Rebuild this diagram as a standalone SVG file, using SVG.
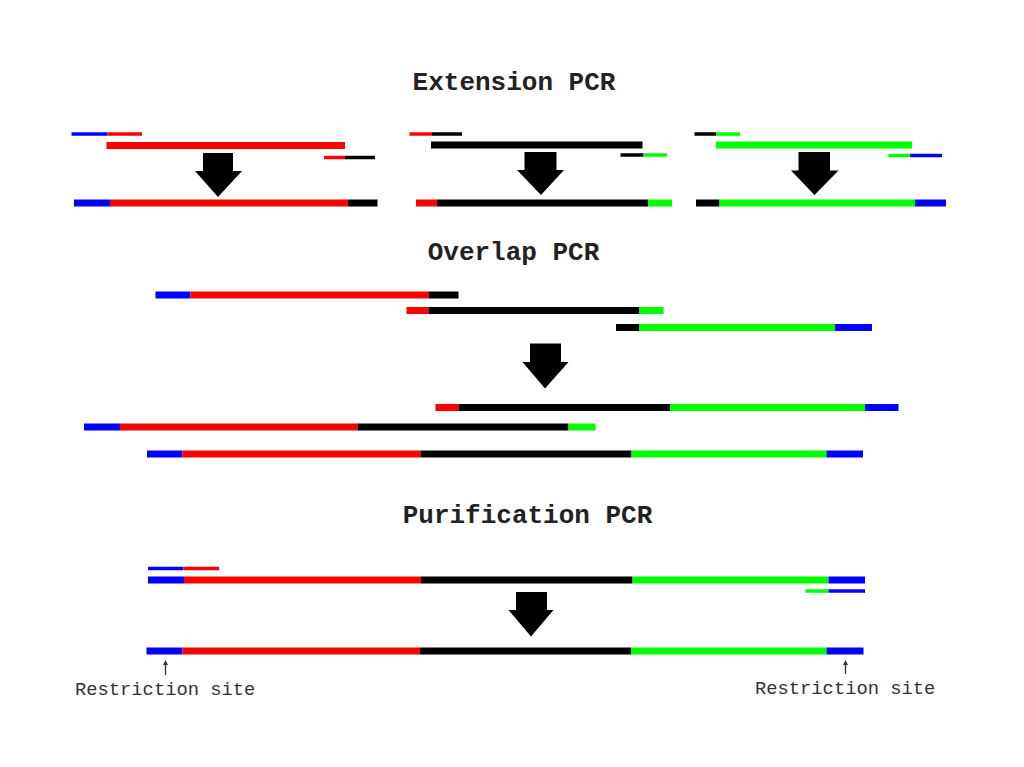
<svg xmlns="http://www.w3.org/2000/svg" width="1024" height="767" viewBox="0 0 1024 767">
<style>
.t{font-family:"Liberation Mono","Courier New",monospace;font-weight:bold;font-size:26px;fill:#222;text-anchor:middle}
.s{font-family:"Liberation Mono","Courier New",monospace;font-size:18.8px;fill:#333}
line{stroke-linecap:butt}
.k{stroke-width:7}
.n{stroke-width:3.5}
.b{stroke:#0000ff}.r{stroke:#ff0000}.g{stroke:#00ff00}.d{stroke:#000}
.ar{fill:#000}
</style>
<rect width="1024" height="767" fill="#fff"/>
<text class="t" x="514" y="90">Extension PCR</text>
<text class="t" x="513.5" y="260">Overlap PCR</text>
<text class="t" x="527.5" y="523">Purification PCR</text>

<g id="ext1">
<line class="n b" x1="71.5" y1="134" x2="107.5" y2="134"/><line class="n r" x1="107.5" y1="134" x2="142" y2="134"/>
<line class="k r" x1="106.5" y1="145.5" x2="345" y2="145.5"/>
<line class="n r" x1="324" y1="157.5" x2="345" y2="157.5"/><line class="n d" x1="345" y1="157.5" x2="375" y2="157.5"/>
<polygon class="ar" points="203,153 233,153 233,171 242,171 218,197 195,171 203,171"/>
<line class="k b" x1="74" y1="203" x2="110" y2="203"/><line class="k r" x1="110" y1="203" x2="348" y2="203"/><line class="k d" x1="348" y1="203" x2="377.5" y2="203"/>
</g>
<g id="ext2">
<line class="n r" x1="409.5" y1="134" x2="432" y2="134"/><line class="n d" x1="432" y1="134" x2="462" y2="134"/>
<line class="k d" x1="431" y1="145" x2="642.5" y2="145"/>
<line class="n d" x1="620.5" y1="155" x2="643.5" y2="155"/><line class="n g" x1="643.5" y1="155" x2="667" y2="155"/>
<polygon class="ar" points="524.5,152 556.5,152 556.5,170 564,170 541,195 517,170 524.5,170"/>
<line class="k r" x1="416" y1="203" x2="437" y2="203"/><line class="k d" x1="437" y1="203" x2="648" y2="203"/><line class="k g" x1="648" y1="203" x2="672" y2="203"/>
</g>
<g id="ext3">
<line class="n d" x1="694.5" y1="134" x2="716" y2="134"/><line class="n g" x1="716" y1="134" x2="740" y2="134"/>
<line class="k g" x1="716" y1="145" x2="912" y2="145"/>
<line class="n g" x1="888.5" y1="155.5" x2="910" y2="155.5"/><line class="n b" x1="910" y1="155.5" x2="942" y2="155.5"/>
<polygon class="ar" points="798.5,152 830,152 830,170.5 838.5,170.5 814.5,195 791,170.5 798.5,170.5"/>
<line class="k d" x1="696" y1="203" x2="719.5" y2="203"/><line class="k g" x1="719.5" y1="203" x2="915" y2="203"/><line class="k b" x1="915" y1="203" x2="946" y2="203"/>
</g>

<g id="overlap">
<line class="k b" x1="155.5" y1="295" x2="190.5" y2="295"/><line class="k r" x1="190.5" y1="295" x2="428.5" y2="295"/><line class="k d" x1="428.5" y1="295" x2="458.5" y2="295"/>
<line class="k r" x1="406.5" y1="310.5" x2="428.5" y2="310.5"/><line class="k d" x1="428.5" y1="310.5" x2="639.5" y2="310.5"/><line class="k g" x1="639.5" y1="310.5" x2="663.5" y2="310.5"/>
<line class="k d" x1="616" y1="327.5" x2="639.5" y2="327.5"/><line class="k g" x1="639.5" y1="327.5" x2="835" y2="327.5"/><line class="k b" x1="835" y1="327.5" x2="872" y2="327.5"/>
<polygon class="ar" points="530,343.5 561,343.5 561,362 568.5,362 545,388.5 522.5,362 530,362"/>
<line class="k r" x1="435.5" y1="407.5" x2="458.5" y2="407.5"/><line class="k d" x1="458.5" y1="407.5" x2="670" y2="407.5"/><line class="k g" x1="670" y1="407.5" x2="865" y2="407.5"/><line class="k b" x1="865" y1="407.5" x2="898.5" y2="407.5"/>
<line class="k b" x1="84" y1="427" x2="120" y2="427"/><line class="k r" x1="120" y1="427" x2="357.5" y2="427"/><line class="k d" x1="357.5" y1="427" x2="568.5" y2="427"/><line class="k g" x1="568.5" y1="427" x2="595.5" y2="427"/>
<line class="k b" x1="147" y1="454" x2="182.5" y2="454"/><line class="k r" x1="182.5" y1="454" x2="420.5" y2="454"/><line class="k d" x1="420.5" y1="454" x2="631.5" y2="454"/><line class="k g" x1="631.5" y1="454" x2="826.5" y2="454"/><line class="k b" x1="826.5" y1="454" x2="863" y2="454"/>
</g>

<g id="purification">
<line class="n b" x1="148" y1="568.5" x2="183.5" y2="568.5"/><line class="n r" x1="183.5" y1="568.5" x2="219" y2="568.5"/>
<line class="k b" x1="148" y1="580" x2="184" y2="580"/><line class="k r" x1="184" y1="580" x2="421" y2="580"/><line class="k d" x1="421" y1="580" x2="632.5" y2="580"/><line class="k g" x1="632.5" y1="580" x2="828.5" y2="580"/><line class="k b" x1="828.5" y1="580" x2="865" y2="580"/>
<line class="n g" x1="805.5" y1="591" x2="828.5" y2="591"/><line class="n b" x1="828.5" y1="591" x2="865" y2="591"/>
<polygon class="ar" points="516,592 547,592 547,610 553.5,610 531,636.5 508.5,610 516,610"/>
<line class="k b" x1="146.5" y1="651" x2="182.5" y2="651"/><line class="k r" x1="182.5" y1="651" x2="420" y2="651"/><line class="k d" x1="420" y1="651" x2="631" y2="651"/><line class="k g" x1="631" y1="651" x2="826.5" y2="651"/><line class="k b" x1="826.5" y1="651" x2="863.5" y2="651"/>
</g>

<g id="labels">
<line x1="165.5" y1="663" x2="165.5" y2="675" stroke="#333" stroke-width="1.3"/>
<polygon points="165.5,660 163,665 168,665" fill="#333"/>
<text class="s" x="75" y="695">Restriction site</text>
<line x1="845.5" y1="663" x2="845.5" y2="674" stroke="#333" stroke-width="1.3"/>
<polygon points="845.5,660 843,665 848,665" fill="#333"/>
<text class="s" x="755" y="694">Restriction site</text>
</g>
</svg>
